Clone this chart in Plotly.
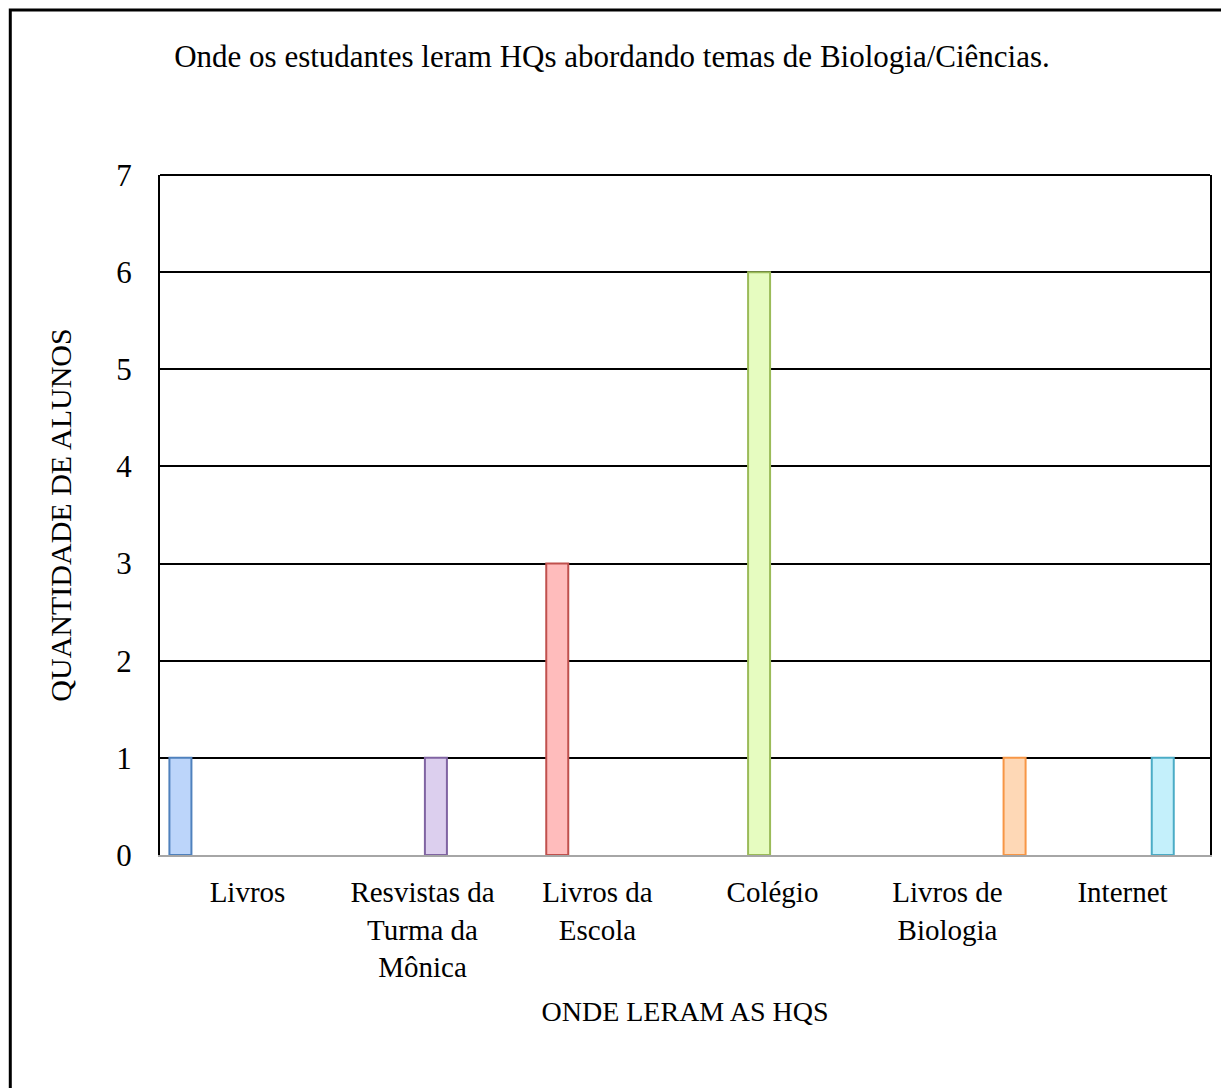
import plotly.graph_objects as go

categories = ["Livros", "Resvistas da<br>Turma da<br>Mônica", "Livros da<br>Escola", "Colégio", "Livros de<br>Biologia", "Internet"]
# Each series holds a value only for its own category (Excel-style grouped layout)
series_names = ["Livros", "Livros da Escola", "Colégio", "Resvistas da Turma da Mônica", "Internet", "Livros de Biologia"]
series_values = [
    [1, None, None, None, None, None],
    [None, None, 3, None, None, None],
    [None, None, None, 6, None, None],
    [None, 1, None, None, None, None],
    [None, None, None, None, None, 1],
    [None, None, None, None, 1, None],
]
fill_colors = ["#bcd5fa", "#ffbcbc", "#e6fcc0", "#dccfee", "#c4f0fb", "#fed8b6"]
line_colors = ["#4f81bd", "#c0504d", "#9bbb59", "#8064a2", "#4bacc6", "#f79646"]

fig = go.Figure()
for name, vals, fc, lc in zip(series_names, series_values, fill_colors, line_colors):
    fig.add_trace(go.Bar(x=categories, y=vals, name=name,
                         marker=dict(color=fc, line=dict(color=lc, width=2))))

font = "Liberation Serif, Times New Roman, serif"
fig.update_layout(
    width=1221, height=1088,
    margin=dict(l=160, r=9, t=175, b=233),
    paper_bgcolor="white", plot_bgcolor="white",
    barmode="group", bargap=0.08, bargroupgap=0.18,
    showlegend=False,
    font=dict(family=font, size=30, color="black"),
    title=dict(text="Onde os estudantes leram HQs abordando temas de Biologia/Ciências.",
               x=612 / 1221, xref="container", xanchor="center", y=1 - 56 / 1088, yanchor="middle",
               font=dict(family=font, size=31, color="black")),
)
fig.update_yaxes(range=[0, 7], dtick=1, showgrid=True, gridcolor="black", gridwidth=2,
                 zeroline=False, showline=True, linecolor="black", linewidth=2, mirror=True,
                 ticks="", ticklabelstandoff=20, tickfont=dict(family=font, size=31),
                 title=dict(text="QUANTIDADE DE ALUNOS", font=dict(family=font, size=30), standoff=36))
fig.update_xaxes(showline=True, linecolor="#a6a6a6", linewidth=2, ticks="",
                 ticklabelstandoff=10, tickangle=0, tickfont=dict(family=font, size=29),
                 title=dict(text="ONDE LERAM AS HQS", font=dict(family=font, size=28), standoff=19))

# top border of the plot area
fig.add_shape(type="line", xref="paper", yref="paper", x0=0, x1=1, y0=1, y1=1,
              line=dict(color="black", width=2), layer="above")
# outer chart border
fig.add_shape(type="rect", xref="paper", yref="paper",
              x0=(10 - 160) / 1052, x1=1.05, y0=-0.4, y1=(855 - 10) / 680,
              line=dict(color="black", width=3), fillcolor="rgba(0,0,0,0)", layer="above")

fig.write_html("out.html", config={"displayModeBar": False},
               post_script="document.body.style.margin='0';")
